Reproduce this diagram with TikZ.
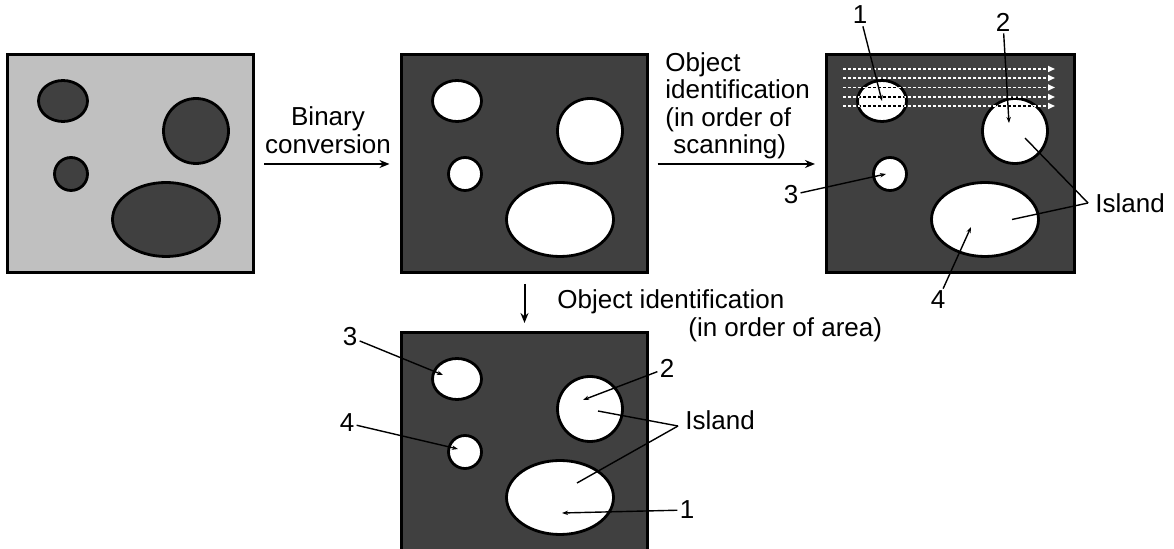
\documentclass[tikz,border=0pt]{standalone}
\usepackage{fontspec}
\setmainfont{Liberation Sans}
\usetikzlibrary{arrows.meta,shapes.geometric,calc}
\definecolor{lightbg}{HTML}{C0C0C0}
\definecolor{darkbg}{HTML}{404040}
\tikzset{
 panel/.style={draw=black, line width=1.5pt, minimum width=123pt, minimum height=109pt, inner sep=0pt, outer sep=0pt},
 blob/.style={ellipse, draw=black, line width=1.4pt, inner sep=0pt, outer sep=0pt},
 mainarrow/.style={line width=1pt, -{Stealth[length=5pt,width=4pt]}},
 pointer/.style={line width=0.7pt, -{Stealth[length=3pt,width=2.2pt]}},
 leader/.style={line width=0.7pt},
 lbl/.style={font=\fontsize{13}{13.75}\selectfont, inner sep=1pt},
 scanline/.style={white, line width=0.8pt, dash pattern=on 1.5pt off 1pt, -{Triangle[length=3.5pt,width=3pt]}},
 scaninv/.style={black, line width=0.8pt, dash pattern=on 1.5pt off 1pt},
}
\newcommand\blobset[4]{%
 \begin{scope}[shift={(#2,#3)}]
  \node[blob, fill=#4, minimum width=24.5pt, minimum height=20.5pt] (#1a) at (56,46) {};
  \node[blob, fill=#4, minimum width=32.5pt, minimum height=32.5pt] (#1b) at (189,76) {};
  \node[blob, fill=#4, minimum width=16.5pt, minimum height=16.5pt] (#1c) at (64,119) {};
  \node[blob, fill=#4, minimum width=53.5pt, minimum height=37pt] (#1d) at (159,164.5) {};
 \end{scope}}
\begin{document}
\begin{tikzpicture}[x=0.5pt,y=-0.5pt]
\useasboundingbox (0,0) rectangle (1174,549);
% panels
\node[panel, fill=lightbg] (p1) at (130,164) {};
\node[panel, fill=darkbg] (p2) at (524.5,164) {};
\node[panel, fill=darkbg, minimum width=124pt] (p3) at (950,164) {};
\node[panel, fill=darkbg] (p4) at (524.5,442) {};
\blobset{p1}{7}{55}{darkbg}
\blobset{p2}{401}{55}{white}
\blobset{p3}{826}{55}{white}
\blobset{p4}{401}{333}{white}
% scanning lines
\foreach \y in {69,78,87.5,97,106} \draw[scanline] (843,\y) -- (1055,\y);
\begin{scope}
 \clip (p3a.center) ellipse (23 and 19);
 \foreach \y in {69,78,87.5,97,106} \draw[scaninv] (843,\y) -- (1055,\y);
\end{scope}
\begin{scope}
 \clip (p3b.center) ellipse (31 and 31);
 \foreach \y in {69,78,87.5,97,106} \draw[scaninv] (843,\y) -- (1055,\y);
\end{scope}
% main arrows and texts
\draw[mainarrow, shorten <=5.5pt, shorten >=6pt] (p1) -- (p2);
\draw[mainarrow, shorten <=5pt, shorten >=5.5pt] (p2) -- (p3);
\draw[mainarrow, shorten <=5.5pt, shorten >=5pt] (p2) -- (p4);
\node[lbl, align=center] (bc) at (328,130) {Binary\\conversion};
\node[lbl, align=left, anchor=west] (os) at (663,106) {Object\\identification\\(in order of\\\hspace*{4pt}scanning)};
\node[lbl, align=left, anchor=west] (oa) at (555,316) {Object identification\\\hspace*{65.5pt}(in order of area)};
% panel 3 labels
\node[lbl] (s1) at (860,15) {1};
\node[lbl] (s2) at (1003,22) {2};
\node[lbl] (s3) at (791,195) {3};
\node[lbl] (s4) at (938,300) {4};
\node[lbl, anchor=west] (si) at (1093,203) {Island};
\coordinate (sij) at ($(si.west)+(-5,0)$);
\draw[pointer] (s1) -- (p3a.center);
\draw[pointer] (s2) -- ($(p3b.center)+(-6,-8)$);
\draw[pointer] (s3) -- ($(p3c.center)+(-4,0)$);
\draw[pointer] (s4) -- ($(p3d.center)+(-14,7.5)$);
\draw[leader] (sij) -- ($(p3b.center)+(10,7)$);
\draw[leader] (sij) -- ($(p3d.center)+(27,0)$);
% panel 4 labels
\node[lbl] (a3) at (350,337) {3};
\node[lbl] (a4) at (347,423) {4};
\node[lbl] (a2) at (667,368) {2};
\node[lbl, anchor=west] (ai) at (683,420) {Island};
\node[lbl] (a1) at (687,510) {1};
\coordinate (aij) at ($(ai.west)+(-5,6)$);
\draw[pointer] (a3) -- ($(p4a.center)+(-14,-4)$);
\draw[pointer] (a4) -- ($(p4c.center)+(-7,-3)$);
\draw[pointer] (a2) -- ($(p4b.center)+(-7,-9)$);
\draw[pointer] (a1) -- ($(p4d.center)+(2,15.5)$);
\draw[leader] (aij) -- ($(p4b.center)+(8,2)$);
\draw[leader] (aij) -- ($(p4d.center)+(17,-14.5)$);
\end{tikzpicture}
\end{document}
